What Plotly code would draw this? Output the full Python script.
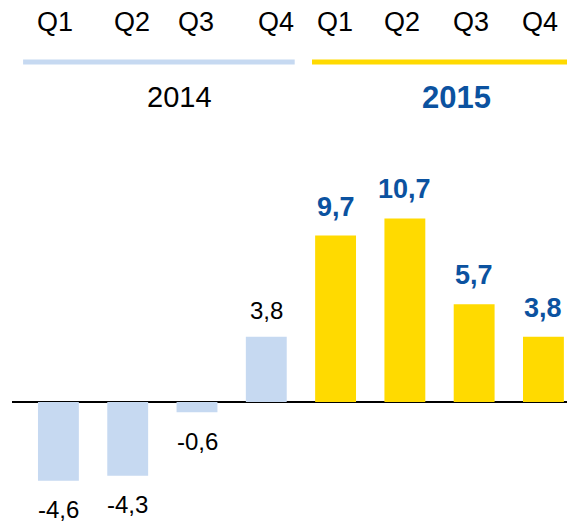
import plotly.graph_objects as go

quarters = ['Q1', 'Q2', 'Q3', 'Q4']
years = ['2014', '2015']
values_2014 = [-4.6, -4.3, -0.6, 3.8]
values_2015 = [9.7, 10.7, 5.7, 3.8]

BLUE_LIGHT = '#C6D9F1'
YELLOW = '#FFDA00'
DARK_BLUE = '#0B52A0'
FONT = 'Arial, Liberation Sans, sans-serif'


def fmt(v):
    return f'{v:.1f}'.replace('.', ',')


x14 = list(range(len(values_2014)))
x15 = [i + len(values_2014) for i in range(len(values_2015))]

fig = go.Figure()
fig.add_trace(go.Bar(x=x14, y=values_2014, marker_color=BLUE_LIGHT,
                     marker_line_width=0, showlegend=False))
fig.add_trace(go.Bar(x=x15, y=values_2015, marker_color=YELLOW,
                     marker_line_width=0, showlegend=False))

annotations = []
# value labels
for x, v in zip(x14, values_2014):
    annotations.append(dict(x=x, y=v, text=fmt(v), showarrow=False,
                            yanchor='middle', yshift=26 if v > 0 else -29,
                            font=dict(family=FONT, size=24, color='black')))
for x, v in zip(x15, values_2015):
    annotations.append(dict(x=x, y=v, text=f'<b>{fmt(v)}</b>', showarrow=False,
                            yanchor='middle', yshift=29,
                            font=dict(family=FONT, size=27, color=DARK_BLUE)))

# quarter labels along the top
q_shift = [-3, 4, -1, 10, -1, -3, -3, -3]
for x, q, dx in zip(x14 + x15, quarters + quarters, q_shift):
    annotations.append(dict(x=x, y=0.958, yref='paper', text=q, showarrow=False,
                            yanchor='middle', xshift=dx,
                            font=dict(family=FONT, size=27, color='black')))

# year labels
annotations.append(dict(x=1.75, y=0.814, yref='paper', text=years[0], showarrow=False,
                        yanchor='middle', font=dict(family=FONT, size=29, color='black')))
annotations.append(dict(x=5.74, y=0.814, yref='paper', text=f'<b>{years[1]}</b>',
                        showarrow=False, yanchor='middle',
                        font=dict(family=FONT, size=31, color=DARK_BLUE)))

shapes = [
    dict(type='line', xref='x', yref='paper', x0=-0.51, x1=3.41, y0=0.881, y1=0.881,
         line=dict(color=BLUE_LIGHT, width=5)),
    dict(type='line', xref='x', yref='paper', x0=3.66, x1=7.4, y0=0.881, y1=0.881,
         line=dict(color=YELLOW, width=5)),
]

fig.update_layout(
    width=567, height=522,
    margin=dict(l=12, r=0, t=0, b=0),
    paper_bgcolor='white', plot_bgcolor='white',
    bargap=0.41,
    annotations=annotations,
    shapes=shapes,
    xaxis=dict(range=[-0.67, 7.34], visible=False, fixedrange=True),
    yaxis=dict(range=[-7.0, 23.44], showgrid=False, showticklabels=False,
               zeroline=True, zerolinecolor='black', zerolinewidth=1.5,
               fixedrange=True),
)

fig.write_html("out.html", config={'displayModeBar': False},
               post_script="document.body.style.margin='0';")
